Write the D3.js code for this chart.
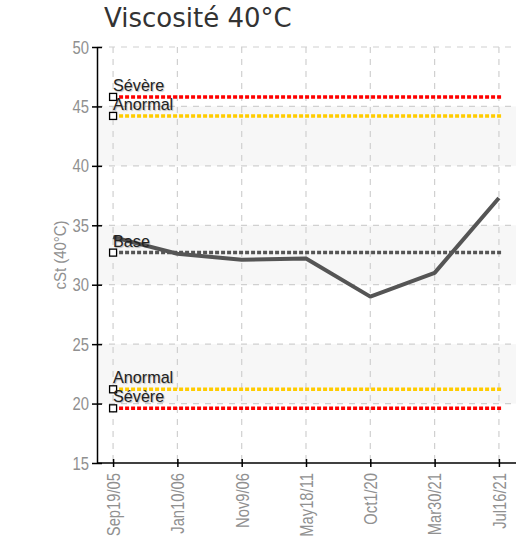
<!DOCTYPE html>
<html><head><meta charset="utf-8">
<script src="https://cdn.jsdelivr.net/npm/d3@7"></script>
<style>body{margin:0;background:#fff}</style>
</head><body>
<svg id="c" width="516" height="549"></svg>
<script>
const categories = ["Sep19/05","Jan10/06","Nov9/06","May18/11","Oct1/20","Mar30/21","Jul16/21"];
const values = [34.0, 32.6, 32.1, 32.2, 29.0, 31.0, 37.3];
const yTicks = [15,20,25,30,35,40,45,50];
const bands = [[40,45],[30,35],[20,25]];
const refLabels = ["Sévère","Anormal","Base","Anormal","Sévère"];
const refValues = [45.8, 44.2, 32.7, 21.2, 19.6];
const refColors = ["#ff0000","#ffcc00","#555555","#ffcc00","#ff0000"];

const svg = d3.select("#c");
const L=97, R=515, T=47, B=463;
const font = "'Liberation Sans',Arial,sans-serif";
const x = d3.scalePoint().domain(categories).range([L,R]).padding(0.25);
const y = d3.scaleLinear().domain([15,50]).range([B,T]);

function condense(sel, f){
  sel.each(function(){ const w=this.getComputedTextLength(); d3.select(this).attr("textLength", w*f).attr("lengthAdjust","spacingAndGlyphs"); });
}

svg.selectAll("rect.band").data(bands).enter().append("rect")
  .attr("x",L).attr("width",516-L).attr("y",d=>y(d[1])).attr("height",d=>y(d[0])-y(d[1]))
  .attr("fill","#f7f7f7");

// grid
svg.selectAll("line.hg").data(yTicks.slice(1)).enter().append("line")
  .attr("x1",L).attr("x2",516).attr("y1",d=>y(d)).attr("y2",d=>y(d))
  .attr("stroke","#d0d0d0").attr("stroke-width",1.2).attr("stroke-dasharray","6,6");
svg.selectAll("line.vg").data(categories).enter().append("line")
  .attr("x1",d=>x(d)).attr("x2",d=>x(d)).attr("y1",T).attr("y2",B)
  .attr("stroke","#d0d0d0").attr("stroke-width",1.2).attr("stroke-dasharray","6,6");

// reference lines
const x0 = x(categories[0]), x1 = x(categories[categories.length-1]) + 4;
refValues.forEach((v,i)=>{
  svg.append("line").attr("x1",x0).attr("x2",x1).attr("y1",y(v)).attr("y2",y(v))
    .attr("stroke",refColors[i]).attr("stroke-width",3.5).attr("stroke-dasharray","4,2");
});

// data line
svg.append("path").datum(values)
  .attr("d",d3.line().x((d,i)=>x(categories[i])).y(d=>y(d)))
  .attr("fill","none").attr("stroke","#555").attr("stroke-width",4).attr("stroke-linejoin","round");

// ref markers & labels
refValues.forEach((v,i)=>{
  svg.append("rect").attr("x",x0-3.5).attr("y",y(v)-3.5).attr("width",7).attr("height",7)
    .attr("fill","#fff").attr("stroke","#000").attr("stroke-width",1.3);
  svg.append("text").attr("class","rl").attr("x",x0).attr("y",y(v)-6)
    .attr("font-family",font).attr("font-size",17).attr("fill","#222")
    .style("text-shadow","1px 1px 1px rgba(0,0,0,0.25)")
    .text(refLabels[i]);
});
condense(svg.selectAll("text.rl"), 0.95);

// axes
const ya = svg.append("g").attr("transform",`translate(${L},0)`)
  .call(d3.axisLeft(y).tickValues(yTicks).tickSizeInner(5).tickSizeOuter(0).tickPadding(3));
ya.selectAll(".tick line").attr("x2",5).attr("x1",-5).attr("stroke","#000").attr("stroke-width",1.5);
ya.select(".domain").attr("stroke","#000").attr("stroke-width",1.5);
ya.selectAll("text").attr("font-family",font).attr("font-size",19).attr("fill","#909090").attr("x",-8);
condense(ya.selectAll("text"), 0.78);

const xa = svg.append("g").attr("transform",`translate(0,${B})`)
  .call(d3.axisBottom(x).tickSizeInner(4).tickSizeOuter(0));
xa.select(".domain").attr("d",`M${L},0H516`).attr("stroke","#000").attr("stroke-width",1.5);
xa.selectAll(".tick line").attr("y1",-4).attr("y2",4).attr("stroke","#000").attr("stroke-width",1.5);
xa.selectAll("text").attr("font-family",font).attr("font-size",18).attr("fill","#909090")
  .attr("transform","rotate(-90)").attr("text-anchor","end").attr("dy","0.35em").attr("x",-10).attr("y",0);
condense(xa.selectAll("text"), 0.82);

const yl = svg.append("text").attr("transform",`translate(66,${(T+B)/2}) rotate(-90)`).attr("text-anchor","middle")
  .attr("font-family",font).attr("font-size",17).attr("fill","#909090").text("cSt (40°C)");
condense(yl, 0.88);

svg.append("text").attr("x",104).attr("y",27).attr("font-family","'DejaVu Sans',sans-serif")
  .attr("font-size",26).attr("fill","#333").text("Viscosité 40°C");
</script>
</body></html>
